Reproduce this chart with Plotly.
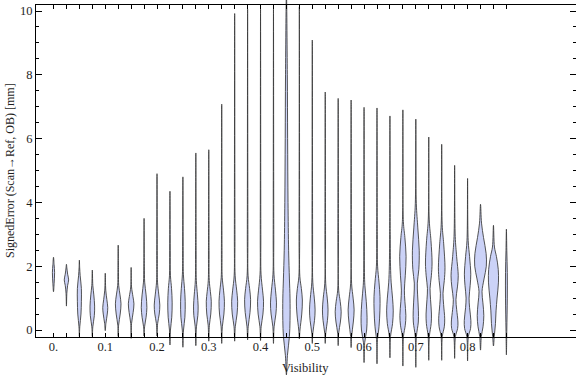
import plotly.graph_objects as go

# ---------------- data ----------------
positions = [0.0, 0.025, 0.05, 0.075, 0.1, 0.125, 0.15, 0.175, 0.2, 0.225,
             0.25, 0.275, 0.3, 0.325, 0.35, 0.375, 0.4, 0.425, 0.45, 0.475,
             0.5, 0.525, 0.55, 0.575, 0.6, 0.625, 0.65, 0.675, 0.7, 0.725,
             0.75, 0.775, 0.8, 0.825, 0.85, 0.875]

# extreme values of each distribution (signed error, mm)
lower_ends = [1.20, 0.75, -0.20, -0.20, -0.02, -0.20, -0.26, -0.19, -0.19, -0.47,
              -0.54, -0.49, -0.35, -0.42, -0.35, -0.31, -0.33, -0.42, -1.41, -0.28,
              -0.42, -0.42, -0.49, -0.55, -1.02, -1.06, -0.87, -1.13, -1.17, -0.95,
              -0.95, -0.89, -0.97, -0.63, -0.50, -0.78]
upper_ends = [2.28, 2.06, 2.19, 1.88, 1.78, 2.66, 1.96, 3.50, 4.90, 4.35,
              4.80, 5.55, 5.65, 7.08, 9.92, 10.06, 10.06, 10.06, 10.60, 10.13,
              9.09, 7.46, 7.26, 7.21, 6.98, 6.96, 6.71, 6.90, 6.61, 6.05,
              5.82, 5.16, 4.75, 3.94, 3.28, 3.16]

# interior density profile of each violin: levels (mm) and relative density
density_levels = [
    [1.45, 1.80, 2.05],
    [1.15, 1.40, 1.57, 1.75, 1.95],
    [0.10, 0.50, 0.90, 1.30, 1.70, 1.95],
    [0.10, 0.45, 0.75, 1.10, 1.40],
    [0.20, 0.50, 0.70, 0.95, 1.25],
    [0.15, 0.50, 0.82, 1.10, 1.40, 1.80],
    [0.20, 0.55, 0.82, 1.05, 1.35],
    [0.10, 0.40, 0.70, 1.10, 1.50, 2.00],
    [0.20, 0.50, 0.78, 1.10, 1.50, 2.20],
    [0.00, 0.40, 0.85, 1.30, 1.70, 2.50],
    [0.00, 0.40, 0.90, 1.30, 1.75, 2.50],
    [0.10, 0.45, 0.75, 1.10, 1.55, 2.50],
    [0.15, 0.50, 0.90, 1.20, 1.55, 2.50],
    [0.10, 0.50, 0.90, 1.25, 1.65, 2.50],
    [0.10, 0.50, 0.90, 1.25, 1.70, 3.00],
    [0.10, 0.55, 0.95, 1.30, 1.70, 3.00],
    [0.10, 0.50, 0.90, 1.25, 1.75, 3.00],
    [0.10, 0.50, 0.85, 1.25, 1.75, 3.00],
    [-0.80, -0.20, 0.30, 1.00, 1.60, 2.50, 4.00, 6.00, 8.00],
    [0.00, 0.50, 0.94, 1.30, 1.67, 3.00],
    [-0.10, 0.30, 0.63, 1.00, 1.50, 3.00],
    [-0.10, 0.30, 0.63, 1.00, 1.45, 3.00],
    [-0.10, 0.25, 0.57, 0.90, 1.25, 3.00],
    [-0.20, 0.25, 0.63, 1.00, 1.45, 3.00],
    [-0.40, 0.00, 0.40, 0.90, 1.40, 1.80, 3.00],
    [-0.30, 0.10, 0.60, 1.05, 1.50, 2.00, 3.00],
    [-0.20, 0.20, 0.60, 1.00, 1.50, 2.00, 3.00],
    [-0.20, 0.15, 0.45, 0.90, 1.25, 1.70, 2.30, 2.90, 3.40],
    [-0.20, 0.25, 0.60, 1.10, 1.47, 1.90, 2.50, 3.20, 3.97],
    [-0.20, 0.20, 0.50, 0.95, 1.30, 1.70, 2.10, 2.80, 3.45],
    [-0.20, 0.10, 0.35, 0.80, 1.15, 1.55, 1.95, 2.70, 3.30],
    [-0.20, 0.05, 0.25, 0.65, 0.95, 1.35, 1.70, 2.30, 2.93],
    [-0.20, 0.05, 0.30, 0.70, 1.00, 1.40, 1.75, 2.30, 2.80],
    [-0.20, 0.10, 0.45, 0.85, 1.20, 1.60, 2.00, 2.40, 2.90, 3.35],
    [-0.20, 0.20, 0.60, 1.00, 1.50, 1.90, 2.30, 2.60],
    [0.00, 1.00, 1.80, 2.50],
]
density_values = [
    [0.6, 1.1, 0.6],
    [0.4, 1.2, 2.2, 1.2, 0.4],
    [0.4, 1.6, 2.0, 2.0, 0.8, 0.3],
    [0.5, 2.0, 2.3, 1.5, 0.5],
    [0.6, 2.0, 2.5, 1.6, 0.5],
    [0.4, 2.0, 2.8, 1.8, 0.5, 0.3],
    [0.4, 2.0, 2.8, 1.8, 0.4],
    [0.5, 2.0, 2.8, 2.0, 0.6, 0.3],
    [0.6, 2.2, 2.8, 1.8, 0.5, 0.3],
    [0.5, 1.8, 2.2, 1.6, 0.5, 0.3],
    [0.6, 2.0, 2.3, 1.6, 0.5, 0.3],
    [0.6, 2.0, 2.3, 1.6, 0.5, 0.3],
    [0.6, 2.0, 2.5, 1.6, 0.5, 0.3],
    [0.6, 2.2, 2.7, 1.8, 0.5, 0.3],
    [0.6, 2.4, 3.0, 2.0, 0.5, 0.3],
    [0.6, 2.4, 3.0, 2.0, 0.5, 0.3],
    [0.6, 2.4, 3.0, 2.0, 0.5, 0.3],
    [0.6, 2.4, 3.0, 2.0, 0.5, 0.3],
    [1.0, 3.0, 3.6, 3.6, 3.0, 2.2, 1.6, 1.2, 0.9],
    [0.6, 2.4, 3.0, 2.0, 0.5, 0.3],
    [0.5, 2.2, 2.8, 2.0, 0.5, 0.3],
    [0.5, 2.2, 2.8, 2.0, 0.5, 0.3],
    [0.5, 2.2, 3.0, 2.0, 0.5, 0.3],
    [0.5, 2.2, 3.0, 2.0, 0.5, 0.3],
    [0.6, 2.6, 3.0, 2.2, 0.8, 0.4, 0.3],
    [0.5, 2.0, 2.9, 3.0, 2.0, 0.6, 0.3],
    [0.6, 2.6, 3.3, 2.6, 1.2, 0.6, 0.3],
    [0.6, 2.4, 3.0, 2.0, 1.5, 2.4, 3.2, 2.0, 0.5],
    [0.6, 2.5, 2.6, 1.8, 1.5, 3.0, 3.4, 2.0, 0.5],
    [0.6, 2.4, 2.7, 1.8, 1.3, 2.6, 3.3, 2.2, 0.5],
    [0.6, 2.6, 3.0, 1.9, 1.3, 2.6, 3.3, 2.0, 0.5],
    [0.8, 3.0, 3.3, 2.0, 1.3, 2.8, 3.6, 2.0, 0.6],
    [0.8, 3.0, 3.3, 2.0, 1.5, 2.6, 3.2, 2.0, 0.6],
    [0.8, 2.5, 3.3, 2.4, 1.5, 3.5, 5.8, 5.6, 3.0, 1.0],
    [0.8, 2.0, 2.6, 3.6, 5.0, 4.8, 3.0, 1.0],
    [0.4, 0.9, 0.9, 0.4],
]

x_tick_labels = ["0.", "0.1", "0.2", "0.3", "0.4", "0.5", "0.6", "0.7", "0.8"]
x_label_values = [0.0, 0.1, 0.2, 0.3, 0.4, 0.5, 0.6, 0.7, 0.8]
y_tick_values = [0, 2, 4, 6, 8, 10]

# ---------------- geometry ----------------
W, H = 576, 377
FL, FR, FT, FB = 36.0, 575.5, 4.5, 337.0       # frame edges in px
X0PX, XS = 53.5, 517.6                           # x=0 position, px per unit
Y0PX, YS = 330.0, 31.9                           # y=0 position, px per unit
DENSITY_SCALE = 1.0 / XS                         # relative density -> x half-width


def xv(px):
    return (px - X0PX) / XS


def yv(py):
    return (Y0PX - py) / YS


FILL = "rgb(203,210,247)"
EDGE = "rgba(55,55,55,0.85)"
FONT = "Liberation Serif"
TXT = "#1e1e1e"

fig = go.Figure()

for i, cx in enumerate(positions):
    lv = [lower_ends[i]] + density_levels[i] + [upper_ends[i]]
    dv = [0.0] + density_values[i] + [0.0]
    xs = [cx + d * DENSITY_SCALE for d in dv] + [cx - d * DENSITY_SCALE for d in reversed(dv[:-1])]
    ys = lv + list(reversed(lv[:-1]))
    fig.add_trace(go.Scatter(
        x=xs, y=ys, mode="lines", fill="toself", fillcolor=FILL,
        line=dict(color=EDGE, width=1, shape="spline", smoothing=1.0),
        hoverinfo="skip", showlegend=False, xaxis="x", yaxis="y"))

# empty trace to materialise the frame subplot
fig.add_trace(go.Scatter(x=[None], y=[None], xaxis="x2", yaxis="y2",
                         showlegend=False, hoverinfo="skip"))

x_ticktext = []
for p in positions:
    lab = ""
    for v, t in zip(x_label_values, x_tick_labels):
        if abs(p - v) < 1e-9:
            lab = t
    x_ticktext.append(lab)

fig.update_layout(
    width=W, height=H, autosize=False,
    margin=dict(l=0, r=0, t=0, b=0, pad=0),
    paper_bgcolor="white", plot_bgcolor="rgba(0,0,0,0)",
    showlegend=False,
    xaxis=dict(domain=[0, 1], range=[xv(0), xv(W)], visible=False, fixedrange=True),
    yaxis=dict(domain=[0, 1], range=[yv(H), yv(0)], visible=False, fixedrange=True),
    xaxis2=dict(domain=[FL / W, FR / W], range=[xv(FL), xv(FR)], anchor="y2",
                showline=True, linecolor="black", linewidth=1, mirror="ticks",
                ticks="inside", ticklen=4, tickwidth=1, tickcolor="black",
                tickvals=positions, ticktext=x_ticktext, ticklabelstandoff=-2,
                tickfont=dict(family=FONT, size=12.5, color=TXT),
                showgrid=False, zeroline=False, fixedrange=True),
    yaxis2=dict(domain=[(H - FB) / H, (H - FT) / H], range=[yv(FB), yv(FT)], anchor="x2",
                showline=True, linecolor="black", linewidth=1, mirror="ticks",
                ticks="inside", ticklen=6, tickwidth=1, tickcolor="black",
                tickvals=y_tick_values, ticktext=[str(v) for v in y_tick_values],
                minor=dict(dtick=0.5, ticks="inside", ticklen=3, tickcolor="black", tickwidth=1),
                tickfont=dict(family=FONT, size=12.5, color=TXT),
                showgrid=False, zeroline=False, fixedrange=True),
    annotations=[
        dict(text="Visibility", x=305 / W, y=(H - 368) / H, xref="paper", yref="paper",
             showarrow=False, xanchor="center", yanchor="middle",
             font=dict(family=FONT, size=12.5, color=TXT)),
        dict(text="SignedError (Scan\u2192Ref, OB) [mm]", x=10 / W, y=(H - 171) / H,
             xref="paper", yref="paper", showarrow=False, textangle=-90,
             xanchor="center", yanchor="middle",
             font=dict(family=FONT, size=12, color=TXT)),
    ],
)

fig.write_html("out.html", config={"displayModeBar": False},
               post_script="document.body.style.margin='0px';document.body.style.padding='0px';")
